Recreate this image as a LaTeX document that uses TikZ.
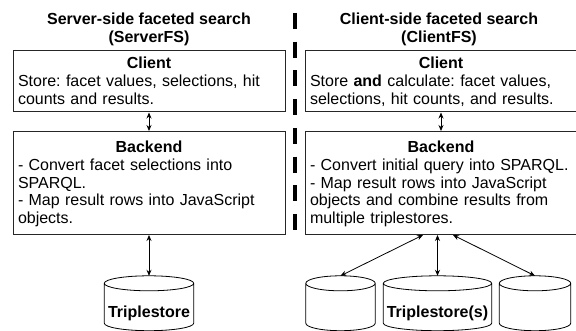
\documentclass[tikz,border=0pt]{standalone}
\usepackage{fontspec}
\setmainfont{Liberation Sans}
\usetikzlibrary{arrows.meta,calc}

\begin{document}
\begin{tikzpicture}[x=1pt,y=1pt,
  every node/.style={font=\fontsize{16}{17.8}\selectfont\frenchspacing},
  box/.style={draw=black!85, line width=1pt, inner xsep=5pt, inner ysep=0pt, align=left, text height=12pt},
  title/.style={inner sep=0pt, align=center, font=\fontsize{16}{17.5}\selectfont\bfseries},
  store/.style={inner sep=0pt, text height=28.5pt, text depth=0pt, font=\fontsize{16}{17.5}\selectfont\bfseries},
  cyl/.style={draw=black, line width=0.8pt},
  link/.style={line width=0.8pt, {Stealth[length=6pt,width=5pt]}-{Stealth[length=6pt,width=5pt]}},
  divider/.style={line width=4pt, dash pattern=on 16pt off 12.71pt}
]
\useasboundingbox (0,0) rectangle (576,-331);
\clip (0,0) rectangle (576,-331);

% titles
\node[title, anchor=north] (ltitle) at (149,-12.8) {Server-side faceted search\\(ServerFS)};
\node[title, anchor=north] (rtitle) at (439,-12.8) {Client-side faceted search\\(ClientFS)};

% divider
\coordinate (dtop) at (294.5,-13);
\coordinate (dbot) at (294.5,-230);
\draw[divider] (dtop) -- (dbot);

% left column
\node[box, text width=262pt, minimum height=61pt, text depth=38pt] (lclient) at (149,-81.5)
  {\makebox[\linewidth][c]{\bfseries Client}\\Store: facet values, selections, hit\\counts and results.};
\node[box, text width=262pt, minimum height=103pt, text depth=73pt] (lbackend) at (149,-183)
  {\makebox[\linewidth][c]{\bfseries Backend}\\- Convert facet selections into\\SPARQL.\\- Map result rows into JavaScript\\objects.};

% right column
\node[box, text width=262pt, minimum height=61pt, text depth=38pt] (rclient) at (441,-81.5)
  {\makebox[\linewidth][c]{\bfseries Client}\\Store \textbf{and} calculate: facet values,\\selections, hit counts, and results.};
\node[box, text width=262pt, minimum height=103pt, text depth=73pt] (rbackend) at (441,-183)
  {\makebox[\linewidth][c]{\bfseries Backend}\\- Convert initial query into SPARQL.\\- Map result rows into JavaScript\\objects and combine results from\\multiple triplestores.};

% triplestores
\node[store, minimum width=89pt, minimum height=54.5pt] (ts) at (149,-303.25) {Triplestore};
\node[store, minimum width=69pt, minimum height=54.5pt] (tsa) at (340.5,-303.25) {};
\node[store, minimum width=108pt, minimum height=54.5pt] (tsb) at (437.5,-303.25) {Triplestore(s)};
\node[store, minimum width=71pt, minimum height=54.5pt] (tsc) at (535,-303.25) {};

\foreach \nm in {ts,tsa,tsb,tsc}{
  \draw[cyl] let \p1=(\nm.north west), \p2=(\nm.south east), \n1={(\x2-\x1)/2} in
    (\x1,\y1-7.5pt) -- (\x1,\y2+7.5pt)
    arc[start angle=180,end angle=360,x radius=\n1,y radius=7.5pt]
    -- (\x2,\y1-7.5pt)
    arc[start angle=0,end angle=180,x radius=\n1,y radius=7.5pt]
    arc[start angle=180,end angle=360,x radius=\n1,y radius=7.5pt];
}

% connectors
\draw[link] (lclient) -- (lbackend);
\draw[link] (rclient) -- (rbackend);
\draw[link] (lbackend) -- (ts);
\draw[link] (tsb.north |- rbackend.south) -- (tsb.north);
\draw[link] ($(rbackend.south)+(-18,0)$) -- (tsa.north);
\draw[link] ($(rbackend.south)+(12,0)$) -- (tsc.north);
\end{tikzpicture}
\end{document}
